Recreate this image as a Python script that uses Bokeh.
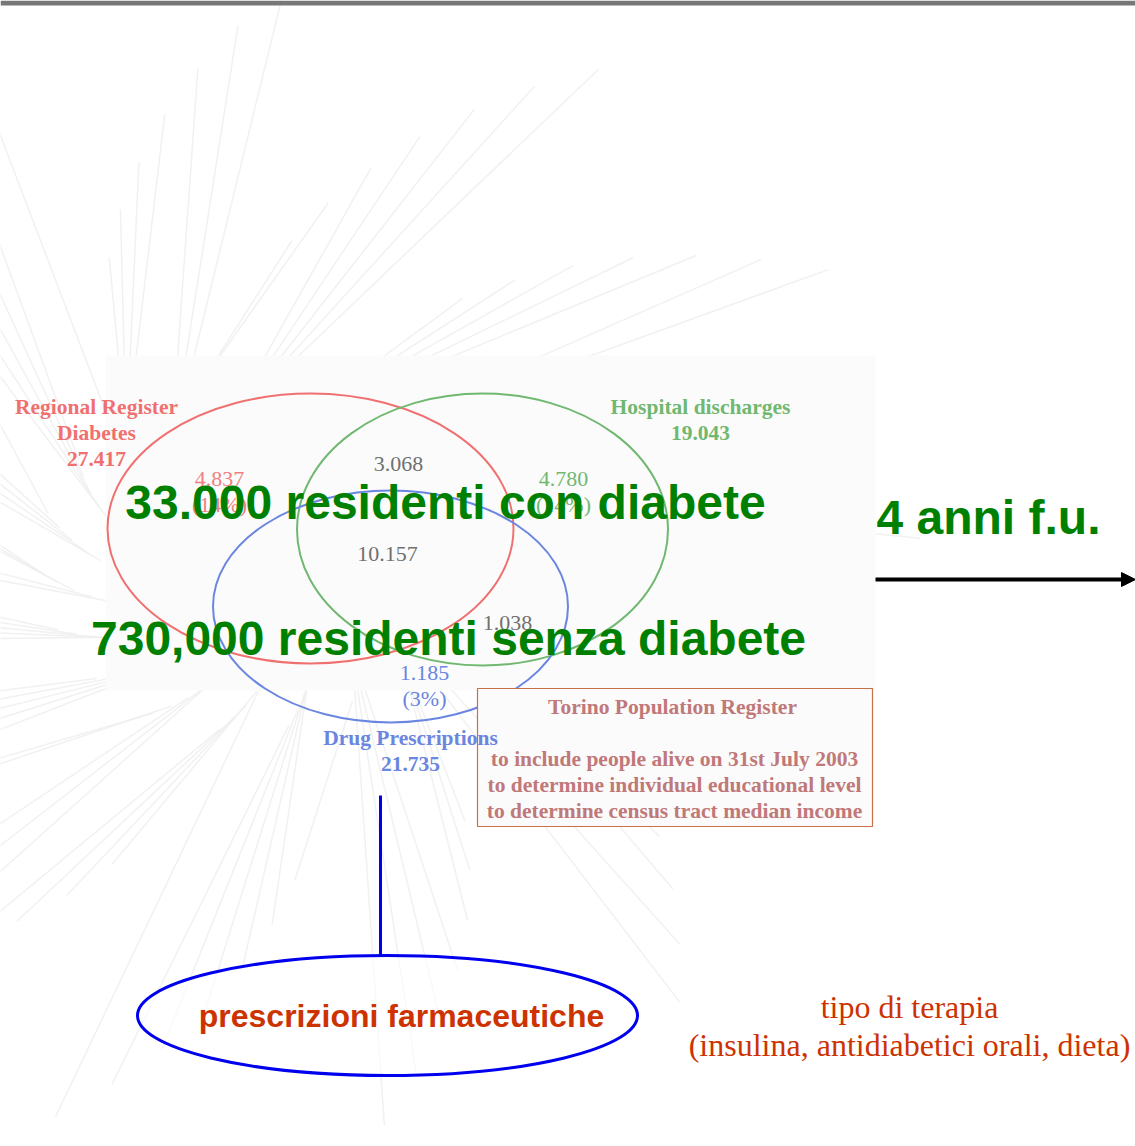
from bokeh.plotting import figure
from bokeh.models import Range1d, Arrow, NormalHead
from bokeh.core.properties import value
from bokeh.embed import file_html
from bokeh.resources import INLINE
import math

# ---------------- data ----------------
set_names = ["Regional Register\nDiabetes", "Hospital discharges", "Drug Prescriptions"]
set_totals = ["27.417", "19.043", "21.735"]
region_counts = ["4.837", "3.068", "4.780", "10.157", "1.038", "1.185"]
region_pcts = ["(14%)", "", "(14%)", "", "", "(3%)"]
headline_with = "33.000 residenti con diabete"
headline_without = "730,000 residenti senza diabete"
followup = "4 anni f.u."
register_title = "Torino Population Register"
register_lines = ["to include people alive on 31st July 2003",
                  "to determine individual educational level",
                  "to determine census tract median income"]
source_label = "prescrizioni farmaceutiche"
therapy_lines = ["tipo di terapia", "(insulina, antidiabetici orali, dieta)"]

# ---------------- layout / style ----------------
W, H = 1135, 1146
SERIF = value("Liberation Serif")
SANS = value("Liberation Sans")
set_colors = ["#f07070", "#70b870", "#6a86e0"]
set_cx = [310, 482, 390]
set_cy = [528, 529, 606]
set_w = [406, 371, 355]
set_h = [270, 272, 232]
label_x = [96, 700, 410]
label_y = [406, 406, 737]
region_x = [219, 398, 563, 387, 507, 424]
region_y = [478, 463, 478, 553, 622, 672]
region_colors = ["#f08080", "#707070", "#70b870", "#707070", "#707070", "#6a86e0"]

p = figure(width=W, height=H, output_backend="svg", toolbar_location=None,
           x_range=Range1d(0, W), y_range=Range1d(H, 0), min_border=0,
           background_fill_color="white", border_fill_color="white")
p.axis.visible = False
p.grid.visible = False
p.outline_line_color = None

# faint decorative background streaks
xs, ys = [], []
for k in range(90):
    a = k * 4.0 * math.pi / 180.0
    r0, r1 = 140 + (k % 5) * 15, 380 + (k % 7) * 50
    cx, cy = 240, 560
    xs.append([cx + r0 * math.cos(a), cx + r1 * math.cos(a + 0.45)])
    ys.append([cy + r0 * math.sin(a) * 0.85, cy + r1 * math.sin(a + 0.45) * 0.85])
p.multi_line(xs, ys, line_color="#eeeeee", line_width=1.5, line_alpha=0.8)

# top bar
p.quad(left=[0], right=[W], top=[0], bottom=[5], fill_color="#777777", line_color=None)
# pale panel behind Venn
p.quad(left=[105], right=[875], top=[355], bottom=[690], fill_color="#fbfbfb", line_color=None)

# Venn ellipses
p.ellipse(x=set_cx, y=set_cy, width=set_w, height=set_h, fill_color=None,
          line_color=set_colors, line_width=2)

# Torino register box (under the labels)
p.quad(left=[477], right=[872], top=[688], bottom=[826], fill_color="#fbfbfb",
       line_color="#c8704a", line_width=1.2)

# set labels
for i in range(3):
    lines = set_names[i].split("\n") + [set_totals[i]]
    for j, t in enumerate(lines):
        p.text(x=[label_x[i]], y=[label_y[i] + 26 * j], text=[t], text_align="center",
               text_baseline="middle", text_font=SERIF, text_font_style="bold",
               text_font_size="21.5px", text_color=set_colors[i])

# region counts
p.text(x=region_x, y=region_y, text=region_counts, text_align="center", text_baseline="middle",
       text_font=SERIF, text_font_size="22px", text_color=region_colors)
p.text(x=region_x, y=[v + 26 for v in region_y], text=region_pcts, text_align="center",
       text_baseline="middle", text_font=SERIF, text_font_size="22px", text_color=region_colors)

# headlines
p.text(x=[445], y=[502], text=[headline_with], text_align="center", text_baseline="middle",
       text_font=SANS, text_font_style="bold", text_font_size="48px", text_color="#008000")
p.text(x=[448], y=[638], text=[headline_without], text_align="center", text_baseline="middle",
       text_font=SANS, text_font_style="bold", text_font_size="48px", text_color="#008000")

# follow-up arrow
p.text(x=[876], y=[517], text=[followup], text_align="left", text_baseline="middle",
       text_font=SANS, text_font_style="bold", text_font_size="48px", text_color="#008000")
p.add_layout(Arrow(end=NormalHead(size=14, fill_color="black", line_color="black"),
                   x_start=875, y_start=579, x_end=1135, y_end=579,
                   line_color="black", line_width=4))

p.text(x=[672], y=[706], text=[register_title], text_align="center", text_baseline="middle",
       text_font=SERIF, text_font_style="bold", text_font_size="21.5px", text_color="#c07878")
p.text(x=[674] * 3, y=[758, 784, 810], text=register_lines, text_align="center",
       text_baseline="middle", text_font=SERIF, text_font_style="bold",
       text_font_size="21.5px", text_color="#c07878")

# connector and source ellipse
p.line(x=[380, 380], y=[795, 955], line_color="#0000ee", line_width=3)
p.ellipse(x=[387], y=[1015], width=[500], height=[120], fill_color="white", fill_alpha=0.6,
          line_color="#0000ee", line_width=3)
p.text(x=[401], y=[1015], text=[source_label], text_align="center", text_baseline="middle",
       text_font=SANS, text_font_style="bold", text_font_size="32px", text_color="#cc3300")

p.text(x=[909, 909], y=[1006, 1044], text=therapy_lines, text_align="center",
       text_baseline="middle", text_font=SERIF, text_font_size="32px", text_color="#cc3300")

open("out.html", "w").write(file_html(p, INLINE))
